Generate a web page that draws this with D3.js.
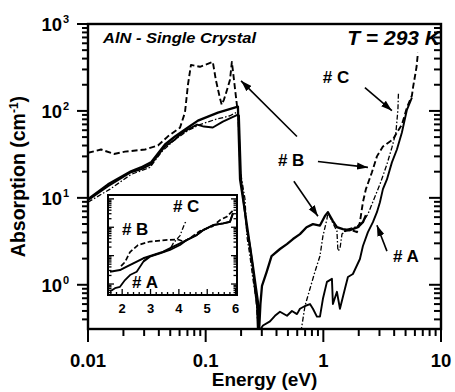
<!DOCTYPE html>
<html>
<head>
<meta charset="utf-8">
<script src="https://cdn.jsdelivr.net/npm/d3@7"></script>
<style>
body { margin: 0; background: #fff; }
text { font-family: "Liberation Sans", Arial, sans-serif; font-weight: bold; fill: #000; }
</style>
</head>
<body>
<div id="chart"></div>
<script>
var width = 455;
var height = 392;
var margin = {top: 24, right: 14, bottom: 63, left: 88};

// Data: [energy (eV), absorption (cm^-1)]
var aSolid = [[0.01, 9.39], [0.0148, 13.6], [0.0232, 19.7], [0.0282, 21.3], [0.0343, 24.3], [0.0451, 39.0],
  [0.0549, 46.9], [0.0605, 53.6], [0.0707, 61.1], [0.0844, 69.7], [0.0967, 66.1], [0.115, 64.4], [0.140, 75.4],
  [0.188, 90.8], [0.192, 88], [0.200, 16.3], [0.224, 4.37], [0.238, 2.79], [0.252, 1.55], [0.262, 0.90],
  [0.273, 0.57], [0.278, 0.28], [0.307, 0.34], [0.352, 0.38], [0.388, 0.44], [0.428, 0.49], [0.491, 0.44],
  [0.541, 0.50], [0.597, 0.46], [0.633, 0.53], [0.698, 0.57], [0.770, 0.60], [0.816, 0.53], [0.882, 0.43],
  [0.936, 0.43], [0.992, 0.69], [1.073, 1.08], [1.183, 1.17], [1.206, 0.60], [1.305, 0.83], [1.384, 0.53],
  [1.526, 0.90], [1.618, 1.23], [1.784, 1.33], [2.046, 1.98], [2.170, 2.79], [2.393, 4.03], [2.639, 5.25],
  [2.854, 6.84], [3.027, 8.91], [3.209, 12.6], [3.471, 16.3], [3.826, 25.6], [4.220, 36.0], [4.653, 56.4],
  [5.132, 103], [5.659, 142]];

var bSolid = [[0.01, 9.64], [0.0148, 14.3], [0.0232, 20.2], [0.0282, 22.4], [0.0343, 25.6], [0.0451, 41.1],
  [0.0549, 50.8], [0.0707, 64.4], [0.086, 77.4], [0.1046, 86.1], [0.1272, 95.7], [0.1547, 103.5], [0.188, 112],
  [0.196, 16.3], [0.216, 6.84], [0.238, 2.79], [0.252, 1.65], [0.268, 0.90], [0.278, 0.64], [0.284, 0.28],
  [0.292, 0.60], [0.301, 0.97], [0.330, 1.41], [0.363, 2.14], [0.428, 2.58], [0.490, 2.94], [0.552, 3.36],
  [0.633, 3.83], [0.720, 4.60], [0.816, 4.99], [0.936, 4.80], [1.032, 6.20], [1.094, 6.84], [1.206, 5.40],
  [1.305, 4.61], [1.467, 4.37], [1.683, 4.25], [1.968, 4.61], [2.170, 5.25], [2.301, 6.30]];

var bDashedLow = [[0.01, 33], [0.0129, 36], [0.0166, 32], [0.0206, 34], [0.0305, 36], [0.0393, 40], [0.0478, 51],
  [0.0605, 64], [0.0667, 96], [0.0707, 200], [0.075, 339], [0.0895, 322], [0.115, 367], [0.122, 228],
  [0.132, 142], [0.137, 118], [0.143, 135], [0.152, 175], [0.161, 228], [0.167, 367], [0.174, 228], [0.185, 112]];

var bDashedHigh = [[1.496, 4.14], [1.75, 4.25], [1.93, 4.03], [2.046, 5.25], [2.17, 8.91], [2.30, 12.6],
  [2.588, 19.7], [2.854, 30.0], [3.209, 39.0], [3.902, 46.9], [4.22, 56.4], [4.653, 69.7], [5.132, 109],
  [5.659, 150], [5.80, 190], [6.20, 322], [6.365, 466]];

var cDashDot = [[0.01, 8.91], [0.0154, 12.6], [0.0232, 18.6], [0.0336, 22.4], [0.0425, 34.2], [0.0549, 46.9],
  [0.0707, 59.5], [0.0895, 69.7], [0.12, 79.5], [0.161, 88], [0.188, 98.2], [0.196, 21.3], [0.216, 9.64],
  [0.224, 3.63], [0.238, 2.14], [0.252, 1.17], [0.268, 0.69], [0.278, 0.34], [0.284, 0.25], [0.633, 0.25],
  [0.658, 0.34], [0.698, 0.57], [0.77, 0.90], [0.848, 1.41], [0.936, 2.14], [0.992, 3.63], [1.073, 5.69],
  [1.094, 6.84], [1.183, 5.4], [1.305, 4.14], [1.33, 2.45], [1.384, 2.58], [1.44, 3.83], [1.618, 4.37],
  [1.855, 4.61], [2.13, 5.1], [2.393, 6.49], [2.588, 8.45], [3.027, 14.3], [3.471, 24.3], [3.826, 38.0],
  [4.138, 56.4], [4.304, 103.5], [4.35, 162]];

// inset (linear energy axis)
var insetA = [[1.57, 0.54], [1.747, 0.71], [1.923, 0.80], [2.10, 1.38], [2.276, 2.07], [2.512, 2.71],
  [2.745, 6.1], [2.98, 9.16], [3.334, 12.05], [3.687, 15.8], [4.04, 23.6], [4.276, 35.4], [4.629, 53.2],
  [4.862, 79.7], [5.214, 119.6], [5.567, 137], [5.803, 156], [5.91, 316]];
var insetB = [[1.57, 2.71], [1.923, 3.11], [2.16, 4.07], [2.392, 5.36], [2.745, 8.04], [3.098, 10.5],
  [3.45, 13.7], [3.803, 20.6], [4.04, 27.1], [4.276, 35.4], [4.629, 53.2], [4.862, 79.7], [5.214, 119.6],
  [5.567, 137], [5.803, 156], [5.91, 316]];
var insetBDashed = [[1.959, 4.3], [2.10, 5.95], [2.276, 13.4], [2.558, 23.6], [2.98, 31.4], [3.51, 35.4],
  [3.97, 36.9], [4.18, 31.4], [4.39, 41.7], [4.745, 73.5], [5.20, 110], [5.45, 179], [5.687, 234], [5.92, 403]];
var insetC = [[2.745, 6.5], [2.98, 9.5], [3.334, 12.5], [3.687, 17], [3.80, 27.1], [4.04, 51], [4.21, 140],
  [4.28, 160]];

var xTickValues = [0.01, 0.1, 1, 10];
var xTickLabels = ["0.01", "0.1", "1", "10"];
var yTickExponents = [0, 1, 2, 3];
var insetTickValues = [2, 3, 4, 5, 6];

// annotations, in data units
var labels = [
  {text: "# C", at: [0.99, 211]},
  {text: "# B", at: [0.411, 23.0]},
  {text: "# A", at: [3.9, 1.83]}
];
var arrows = [
  {from: [2.256, 185], to: [3.826, 100.8]},
  {from: [0.597, 50.8], to: [0.2, 222]},
  {from: [0.9, 26.2], to: [2.393, 22.4]},
  {from: [0.562, 15.5], to: [0.9, 6.15]},
  {from: [3.471, 2.44], to: [2.854, 4.85]}
];
var insetLabels = [
  {text: "# C", at: [3.79, 343]},
  {text: "# B", at: [1.99, 53]},
  {text: "# A", at: [2.35, 0.72]}
];

var svg = d3.select("#chart")
  .append("svg")
  .attr("width", width)
  .attr("height", height);

var x = d3.scaleLog().domain([0.01, 10]).range([margin.left, width - margin.right]);
var y = d3.scaleLog().domain([0.31, 1000]).range([height - margin.bottom, margin.top]);

var defs = svg.append("defs");
defs.append("clipPath").attr("id", "clipMain")
  .append("rect")
  .attr("x", margin.left).attr("y", margin.top)
  .attr("width", width - margin.left - margin.right)
  .attr("height", height - margin.top - margin.bottom);

defs.append("marker")
  .attr("id", "head")
  .attr("viewBox", "0 -4 11 8")
  .attr("refX", 11).attr("refY", 0)
  .attr("markerUnits", "userSpaceOnUse")
  .attr("markerWidth", 11).attr("markerHeight", 8)
  .attr("orient", "auto")
  .append("path")
  .attr("d", "M0,-3.6L11,0L0,3.6Z")
  .attr("fill", "#000");

var dashed = "6,3";
var dashDot = "5,2,1.5,2";

var styles = [
  {data: bDashedLow, width: 1.9, dash: dashed},
  {data: bDashedHigh, width: 1.9, dash: dashed},
  {data: cDashDot, width: 1.3, dash: dashDot},
  {data: aSolid, width: 1.9, dash: null},
  {data: bSolid, width: 2.3, dash: null}
];

var line = d3.line()
  .x(function(d) { return x(d[0]); })
  .y(function(d) { return y(d[1]); });

var plot = svg.append("g").attr("clip-path", "url(#clipMain)");
styles.forEach(function(s) {
  plot.append("path")
    .datum(s.data)
    .attr("fill", "none")
    .attr("stroke", "#000")
    .attr("stroke-width", s.width)
    .attr("stroke-linejoin", "round")
    .attr("stroke-dasharray", s.dash)
    .attr("d", line);
});

// ---- inset ----
var inset = {left: 108, right: 237, top: 195, bottom: 295};
var xi = d3.scaleLinear().domain([1.5, 6.05]).range([inset.left, inset.right]);
var yi = d3.scaleLog().domain([0.41, 1370]).range([inset.bottom, inset.top]);

defs.append("clipPath").attr("id", "clipInset")
  .append("rect")
  .attr("x", inset.left).attr("y", inset.top)
  .attr("width", inset.right - inset.left)
  .attr("height", inset.bottom - inset.top);

svg.append("rect")
  .attr("x", inset.left).attr("y", inset.top)
  .attr("width", inset.right - inset.left)
  .attr("height", inset.bottom - inset.top)
  .attr("fill", "#fff");

var lineInset = d3.line()
  .x(function(d) { return xi(d[0]); })
  .y(function(d) { return yi(d[1]); });

var insetStyles = [
  {data: insetBDashed, width: 1.7, dash: "5,2.5"},
  {data: insetC, width: 1.3, dash: dashDot},
  {data: insetA, width: 1.8, dash: null},
  {data: insetB, width: 2, dash: null}
];

var insetPlot = svg.append("g").attr("clip-path", "url(#clipInset)");
insetStyles.forEach(function(s) {
  insetPlot.append("path")
    .datum(s.data)
    .attr("fill", "none")
    .attr("stroke", "#000")
    .attr("stroke-width", s.width)
    .attr("stroke-linejoin", "round")
    .attr("stroke-dasharray", s.dash)
    .attr("d", lineInset);
});

svg.append("rect")
  .attr("x", inset.left).attr("y", inset.top)
  .attr("width", inset.right - inset.left)
  .attr("height", inset.bottom - inset.top)
  .attr("fill", "none")
  .attr("stroke", "#000")
  .attr("stroke-width", 2);

function isDecade(t) {
  var l = Math.log10(t);
  return Math.abs(l - Math.round(l)) < 1e-6;
}

// inset ticks
var insetMinor = d3.range(1.6, 6.01, 0.2);
svg.append("g").selectAll("line")
  .data(insetMinor)
  .enter().append("line")
  .attr("x1", function(d) { return xi(d); })
  .attr("x2", function(d) { return xi(d); })
  .attr("y1", inset.bottom)
  .attr("y2", function(d) { return inset.bottom - (Math.abs(d - Math.round(d)) < 1e-6 ? 6 : 3); })
  .attr("stroke", "#000").attr("stroke-width", 1.3);

svg.append("g").selectAll("text")
  .data(insetTickValues)
  .enter().append("text")
  .attr("x", function(d) { return xi(d); })
  .attr("y", inset.bottom + 18)
  .attr("text-anchor", "middle")
  .attr("font-size", 13)
  .text(function(d) { return d; });

[inset.left, inset.right].forEach(function(edge, i) {
  var dir = i === 0 ? 1 : -1;
  svg.append("g").selectAll("line")
    .data(yi.ticks())
    .enter().append("line")
    .attr("x1", edge)
    .attr("x2", function(d) { return edge + dir * (isDecade(d) ? 6 : 3.5); })
    .attr("y1", function(d) { return yi(d); })
    .attr("y2", function(d) { return yi(d); })
    .attr("stroke", "#000").attr("stroke-width", 1.3);
});

svg.append("g").selectAll("text")
  .data(insetLabels)
  .enter().append("text")
  .attr("x", function(d) { return xi(d.at[0]); })
  .attr("y", function(d) { return yi(d.at[1]); })
  .attr("font-size", 17)
  .text(function(d) { return d.text; });

// ---- main frame and ticks ----
var x0 = margin.left, x1 = width - margin.right;
var y0 = height - margin.bottom, y1 = margin.top;

svg.append("rect")
  .attr("x", x0).attr("y", y1)
  .attr("width", x1 - x0).attr("height", y0 - y1)
  .attr("fill", "none")
  .attr("stroke", "#000")
  .attr("stroke-width", 2.4);

var yTicks = y.ticks();
svg.append("g").selectAll("line")
  .data(yTicks)
  .enter().append("line")
  .attr("x1", function(d) { return x0 - (isDecade(d) ? 11 : 6); })
  .attr("x2", x0)
  .attr("y1", function(d) { return y(d); })
  .attr("y2", function(d) { return y(d); })
  .attr("stroke", "#000").attr("stroke-width", 2);

svg.append("g").selectAll("line")
  .data(yTicks)
  .enter().append("line")
  .attr("x1", x1)
  .attr("x2", function(d) { return x1 - (isDecade(d) ? 12 : 7); })
  .attr("y1", function(d) { return y(d); })
  .attr("y2", function(d) { return y(d); })
  .attr("stroke", "#000").attr("stroke-width", 2);

svg.append("g").selectAll("line")
  .data(x.ticks())
  .enter().append("line")
  .attr("x1", function(d) { return x(d); })
  .attr("x2", function(d) { return x(d); })
  .attr("y1", y0)
  .attr("y2", function(d) { return y0 + (isDecade(d) ? 13 : 7); })
  .attr("stroke", "#000").attr("stroke-width", 2);

svg.append("g").selectAll("text")
  .data(xTickValues)
  .enter().append("text")
  .attr("x", function(d) { return x(d); })
  .attr("y", y0 + 38)
  .attr("text-anchor", "middle")
  .attr("font-size", 18.5)
  .text(function(d, i) { return xTickLabels[i]; });

var yLab = svg.append("g").selectAll("text")
  .data(yTickExponents)
  .enter().append("text")
  .attr("x", 62)
  .attr("y", function(d) { return y(Math.pow(10, d)) + 7; })
  .attr("text-anchor", "end")
  .attr("font-size", 18.5);
yLab.append("tspan").text("10");
yLab.append("tspan")
  .attr("x", 63)
  .attr("dy", -8)
  .attr("text-anchor", "start")
  .attr("font-size", 11)
  .text(function(d) { return d; });

// axis titles
svg.append("text")
  .attr("x", (x0 + x1) / 2)
  .attr("y", height - 6)
  .attr("text-anchor", "middle")
  .attr("font-size", 19)
  .text("Energy (eV)");

var yt = svg.append("text")
  .attr("transform", "translate(25," + ((y0 + y1) / 2) + ") rotate(-90)")
  .attr("text-anchor", "middle")
  .attr("font-size", 19.5);
yt.append("tspan").text("Absorption (cm");
yt.append("tspan").attr("dy", -7).attr("font-size", 12).text("-1");
yt.append("tspan").attr("dy", 7).text(")");

// in-plot texts
svg.append("text")
  .attr("x", x0 + 15).attr("y", y1 + 19)
  .attr("font-size", 15.5)
  .attr("font-style", "italic")
  .attr("textLength", 153)
  .attr("lengthAdjust", "spacingAndGlyphs")
  .text("AlN - Single Crystal");

svg.append("text")
  .attr("x", x1 - 1).attr("y", y1 + 21)
  .attr("text-anchor", "end")
  .attr("font-size", 21)
  .attr("font-style", "italic")
  .text("T = 293 K");

svg.append("g").selectAll("text")
  .data(labels)
  .enter().append("text")
  .attr("x", function(d) { return x(d.at[0]); })
  .attr("y", function(d) { return y(d.at[1]); })
  .attr("font-size", 17)
  .text(function(d) { return d.text; });

svg.append("g").selectAll("line")
  .data(arrows)
  .enter().append("line")
  .attr("x1", function(d) { return x(d.from[0]); })
  .attr("y1", function(d) { return y(d.from[1]); })
  .attr("x2", function(d) { return x(d.to[0]); })
  .attr("y2", function(d) { return y(d.to[1]); })
  .attr("stroke", "#000")
  .attr("stroke-width", 1.6)
  .attr("marker-end", "url(#head)");
</script>
</body>
</html>
